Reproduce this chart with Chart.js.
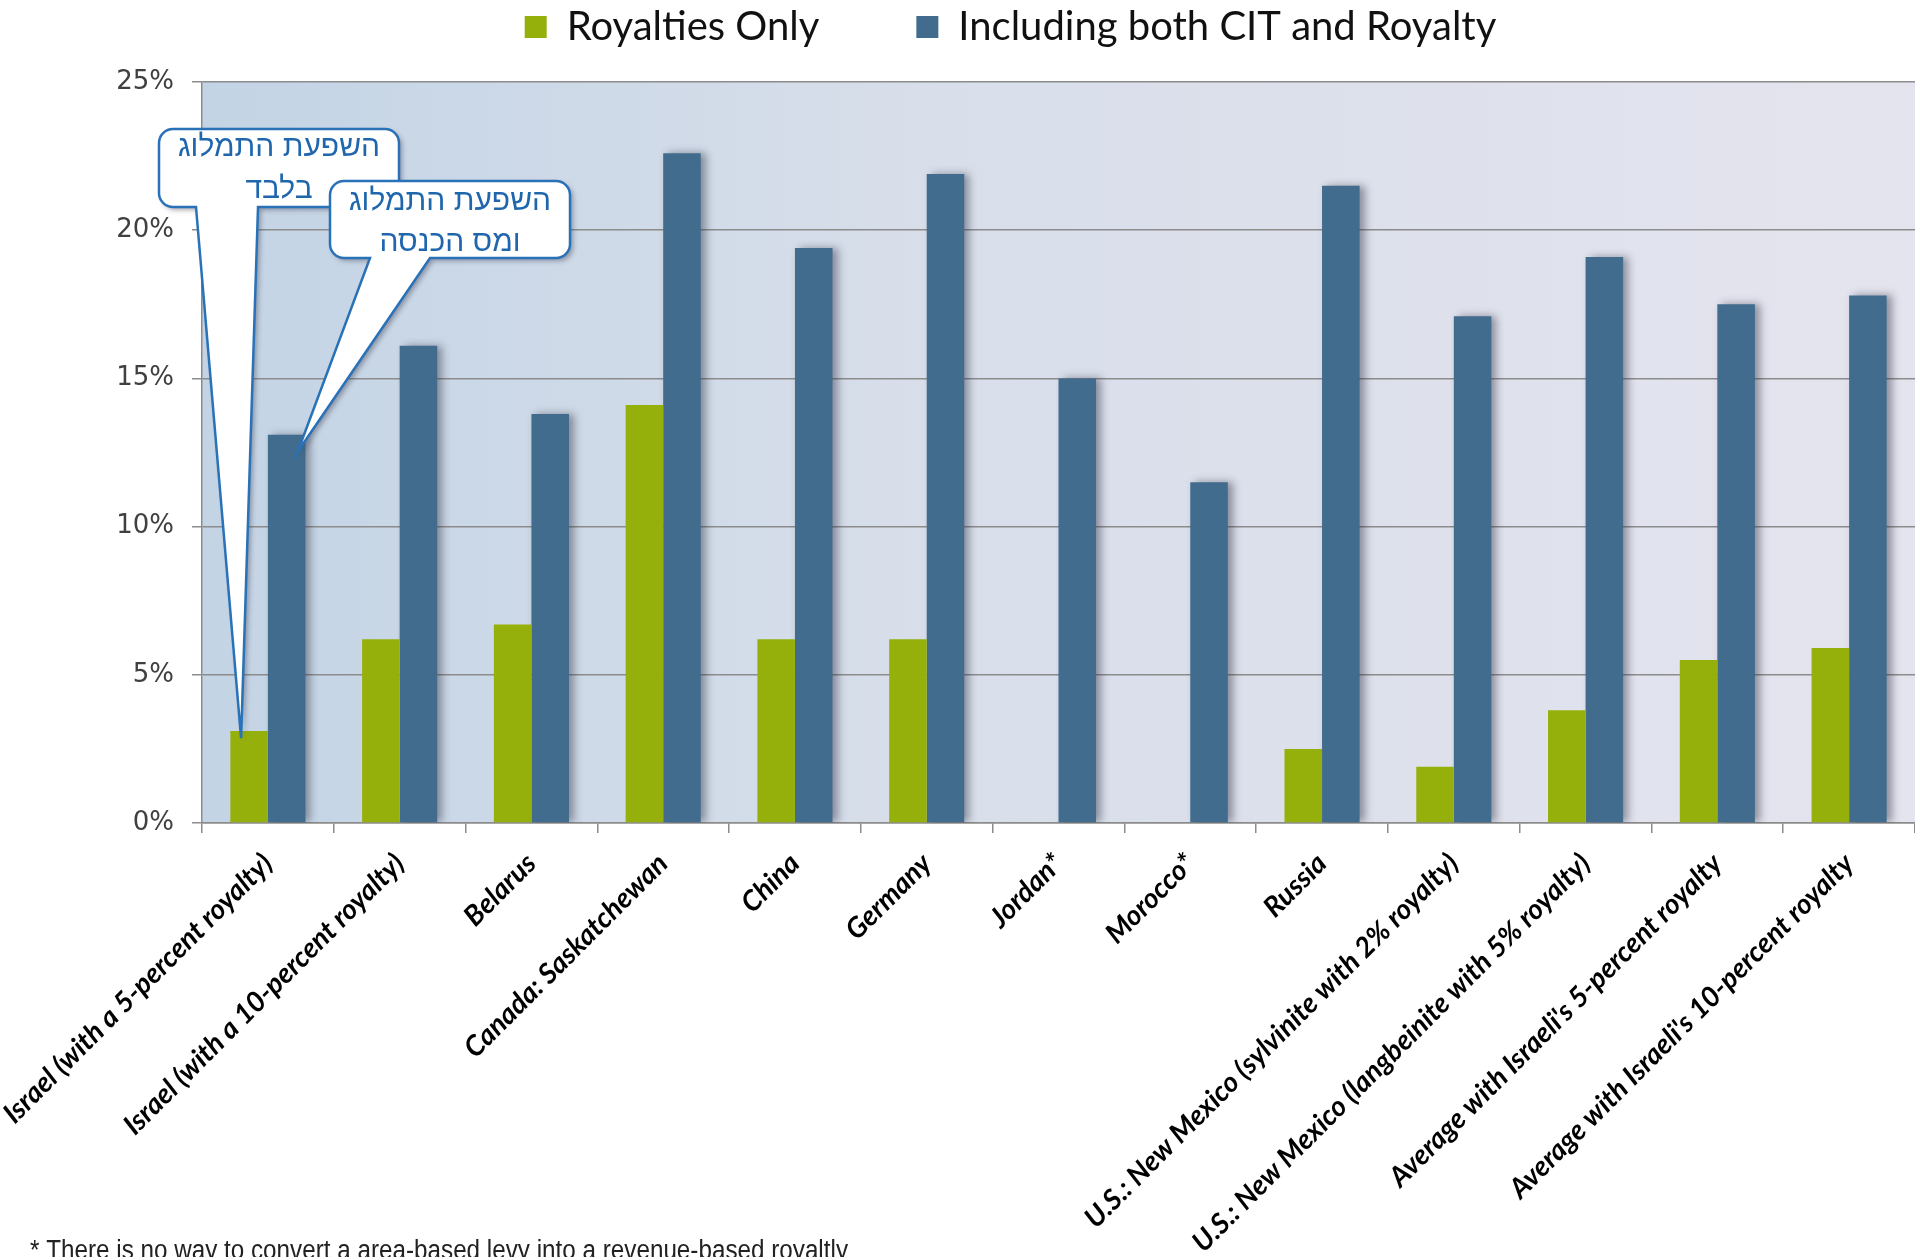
<!DOCTYPE html>
<html>
<head>
<meta charset="utf-8">
<title>Royalty and CIT comparison</title>
<script src="https://cdn.jsdelivr.net/npm/chart.js@4.4.1/dist/chart.umd.min.js"></script>
<style>
  html, body { margin: 0; padding: 0; background: #fff; }
  #wrap { width: 1915px; height: 1257px; position: relative; }
</style>
</head>
<body>
<div id="wrap"><canvas id="chart"></canvas></div>
<script>
// categories
const categories = [
  "Israel (with a 5-percent royalty)",
  "Israel (with a 10-percent royalty)",
  "Belarus",
  "Canada: Saskatchewan",
  "China",
  "Germany",
  "Jordan*",
  "Morocco*",
  "Russia",
  "U.S.: New Mexico (sylvinite with 2% royalty)",
  "U.S.: New Mexico (langbeinite with 5% royalty)",
  "Average with Israeli's 5-percent royalty",
  "Average with Israeli's 10-percent royalty",
];
// series (percent)
const royaltiesOnly = [3.1, 6.2, 6.7, 14.1, 6.2, 6.2, null, null, 2.5, 1.9, 3.8, 5.5, 5.9];
const citAndRoyalty = [13.1, 16.1, 13.8, 22.6, 19.4, 21.9, 15.0, 11.5, 21.5, 17.1, 19.1, 17.5, 17.8];
const yTicks = [0, 5, 10, 15, 20, 25];
const seriesNames = ["Royalties Only", "Including both CIT and Royalty"];
// callout texts
const calloutTexts = [["השפעת התמלוג", "בלבד"], ["השפעת התמלוג", "ומס הכנסה"]];
const footnote = "* There is no way to convert a area-based levy into a revenue-based royaltly";

const GRID = "#8c8c8c";

// plot background gradient
const plotBackground = {
  id: "plotBackground",
  beforeDraw(chart) {
    const { ctx, chartArea: a } = chart;
    const g = ctx.createLinearGradient(a.left, 0, a.right, 0);
    g.addColorStop(0, "#c3d4e5");
    g.addColorStop(0.4, "#d7deea");
    g.addColorStop(1, "#e4e4ee");
    ctx.save();
    ctx.fillStyle = g;
    ctx.fillRect(a.left, a.top, a.right - a.left, a.bottom - a.top);
    ctx.restore();
  },
};

// soft shadow right of the blue bars
const barShadow = {
  id: "barShadow",
  beforeDatasetDraw(chart, args) {
    if (args.index !== 1) return;
    const c = chart.ctx;
    c.save();
    c.shadowColor = "rgba(40,40,60,0.45)";
    c.shadowBlur = 8;
    c.shadowOffsetX = 5;
    c.shadowOffsetY = 0;
  },
  afterDatasetDraw(chart, args) {
    if (args.index === 1) chart.ctx.restore();
  },
};

function calloutPath(ctx, b) {
  const r = 14;
  ctx.beginPath();
  ctx.moveTo(b.x1 + r, b.y1);
  ctx.lineTo(b.x2 - r, b.y1);
  ctx.arcTo(b.x2, b.y1, b.x2, b.y1 + r, r);
  ctx.lineTo(b.x2, b.y2 - r);
  ctx.arcTo(b.x2, b.y2, b.x2 - r, b.y2, r);
  ctx.lineTo(b.baseR, b.y2);
  ctx.lineTo(b.tipX, b.tipY);
  ctx.lineTo(b.baseL, b.y2);
  ctx.lineTo(b.x1 + r, b.y2);
  ctx.arcTo(b.x1, b.y2, b.x1, b.y2 - r, r);
  ctx.lineTo(b.x1, b.y1 + r);
  ctx.arcTo(b.x1, b.y1, b.x1 + r, b.y1, r);
  ctx.closePath();
}

// speech bubbles + footnote
const callouts = {
  id: "callouts",
  afterDraw(chart) {
    const ctx = chart.ctx;
    const green = chart.getDatasetMeta(0).data[0];
    const blue = chart.getDatasetMeta(1).data[0];
    const boxes = [
      { x1: 159, y1: 129, x2: 399, y2: 207, baseL: 196, baseR: 258,
        tipX: green.x - 8, tipY: green.y + 7, lines: calloutTexts[0], cx: 279, ly: [148, 190] },
      { x1: 330, y1: 181, x2: 570, y2: 258, baseL: 370, baseR: 430,
        tipX: blue.x + 11, tipY: blue.y + 17, lines: calloutTexts[1], cx: 450, ly: [202, 243] },
    ];
    boxes.forEach((b) => {
      ctx.save();
      calloutPath(ctx, b);
      ctx.shadowColor = "rgba(60,60,80,0.45)";
      ctx.shadowBlur = 5;
      ctx.shadowOffsetX = 3;
      ctx.shadowOffsetY = 3;
      ctx.fillStyle = "#ffffff";
      ctx.fill();
      ctx.shadowColor = "transparent";
      ctx.lineWidth = 2.5;
      ctx.strokeStyle = "#2a72b8";
      ctx.stroke();
      ctx.fillStyle = "#1f66ad";
      ctx.font = '30px "Liberation Sans", "DejaVu Sans", sans-serif';
      ctx.textAlign = "center";
      ctx.textBaseline = "middle";
      ctx.direction = "rtl";
      b.lines.forEach((t, i) => ctx.fillText(t, b.cx, b.ly[i]));
      ctx.restore();
    });

    // footnote, squeezed to the narrow width of the original
    ctx.save();
    ctx.font = '27px "Liberation Sans Narrow", "Liberation Sans", sans-serif';
    ctx.fillStyle = "#222";
    ctx.textBaseline = "alphabetic";
    const w = ctx.measureText(footnote).width;
    ctx.translate(30, 1259);
    ctx.scale(818 / w, 1);
    ctx.fillText(footnote, 0, 0);
    ctx.restore();
  },
};

const ctx = document.getElementById("chart").getContext("2d");
new Chart(ctx, {
  type: "bar",
  data: {
    labels: categories,
    datasets: [
      { label: seriesNames[0], data: royaltiesOnly, backgroundColor: "#95b00b",
        categoryPercentage: 0.57, barPercentage: 1.0 },
      { label: seriesNames[1], data: citAndRoyalty, backgroundColor: "#416c8d",
        categoryPercentage: 0.57, barPercentage: 1.0 },
    ],
  },
  options: {
    responsive: true,
    maintainAspectRatio: false,
    animation: false,
    layout: { padding: { top: -90, left: 106, right: 0, bottom: 0 } },
    plugins: {
      legend: {
        position: "top",
        labels: {
          boxWidth: 22,
          boxHeight: 22,
          padding: 97,
          color: "#111",
          font: { family: "Lato", size: 40 },
        },
      },
      // empty title used as a spacer between legend and plot
      title: {
        display: true,
        text: "",
        position: "top",
        weight: 500,
        font: { size: 10 },
        padding: { top: 13, bottom: 0 },
      },
      tooltip: { enabled: false },
    },
    scales: {
      x: {
        grid: { drawOnChartArea: false, color: GRID, lineWidth: 1.5, tickLength: 10 },
        border: { color: GRID, width: 1.5 },
        ticks: {
          autoSkip: false,
          minRotation: 45,
          maxRotation: 45,
          padding: 14,
          color: "#000",
          font: { family: "Lato", size: 28, style: "italic", weight: "bold" },
        },
        afterFit: (s) => {
          s.height = 434;
          s.paddingLeft = 0;
          s.paddingRight = 0;
        },
      },
      y: {
        min: 0,
        max: 25,
        afterBuildTicks: (s) => {
          s.ticks = yTicks.map((v) => ({ value: v }));
        },
        grid: { color: GRID, lineWidth: 1.5, tickLength: 10 },
        border: { color: GRID, width: 1.5 },
        ticks: {
          padding: 18,
          color: "#404040",
          font: { family: "DejaVu Sans", size: 26 },
          callback: (v) => v + "%",
        },
        afterFit: (s) => {
          s.width = 96;
        },
      },
    },
  },
  plugins: [plotBackground, barShadow, callouts],
});
</script>
</body>
</html>
